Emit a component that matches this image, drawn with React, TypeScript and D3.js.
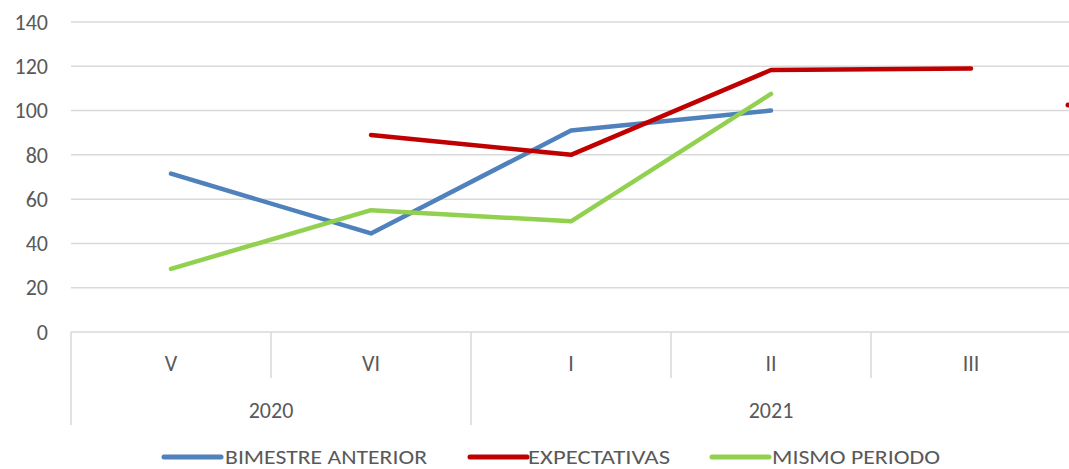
import React from "react";
import * as d3 from "d3";

const categories = ["V", "VI", "I", "II", "III"];
const years = [
  { label: "2020", cats: ["V", "VI"] },
  { label: "2021", cats: ["I", "II", "III"] },
];
const yTicks = [0, 20, 40, 60, 80, 100, 120, 140];

const bimestreAnterior: (number | null)[] = [71.5, 44.5, 91, 100, null];
const expectativas: (number | null)[] = [null, 89, 80, 118.3, 119];
const mismoPeriodo: (number | null)[] = [28.5, 55, 50, 107.5, null];
const expectativasNext = 102.5;

const series = [
  { name: "BIMESTRE ANTERIOR", color: "#4f81bd", values: bimestreAnterior },
  { name: "EXPECTATIVAS", color: "#c00000", values: expectativas },
  { name: "MISMO PERIODO", color: "#92d050", values: mismoPeriodo },
];

const W = 1069;
const H = 469;
const FONT = "Carlito, Calibri, Lato, sans-serif";
const TEXT = "#595959";
const GRID = "#d9d9d9";
const FS = 22;

export default function App() {
  const x = d3.scaleBand<string>().domain(categories).range([71, 1071]);
  const y = d3.scaleLinear().domain([0, 140]).range([332, 22]);
  const bw = x.bandwidth();
  const cx = (c: string) => (x(c) as number) + bw / 2;

  const line = d3
    .line<number | null>()
    .defined((d) => d !== null)
    .x((_, i) => cx(categories[i]))
    .y((d) => y(d as number));

  const lastEdge = (x(categories[categories.length - 1]) as number) + bw;

  const legendY = 457;
  const legendItems = [
    { lx: 164, tx: 225, tl: 202 },
    { lx: 470, tx: 528, tl: 142 },
    { lx: 712, tx: 772, tl: 168 },
  ];

  return (
    <svg
      width={W}
      height={H}
      style={{ position: "absolute", left: 0, top: 0, background: "#fff" }}
      fontFamily={FONT}
    >
      {yTicks.map((t) => (
        <g key={t}>
          {t > 0 && (
            <line x1={71} x2={W} y1={y(t)} y2={y(t)} stroke={GRID} strokeWidth={1.5} />
          )}
          <text x={48} y={y(t)} dy="0.35em" textAnchor="end" fontSize={FS} fill={TEXT}>
            {t}
          </text>
        </g>
      ))}
      <line x1={71} x2={W} y1={y(0)} y2={y(0)} stroke={GRID} strokeWidth={1.5} />
      {categories.map((c) => {
        const left = x(c) as number;
        const isGroupStart = years.some((g) => g.cats[0] === c);
        return (
          <g key={c}>
            <line
              x1={left}
              x2={left}
              y1={y(0)}
              y2={isGroupStart ? 425 : 378}
              stroke={GRID}
              strokeWidth={1.5}
            />
            <text x={cx(c)} y={363} dy="0.35em" textAnchor="middle" fontSize={FS} fill={TEXT}>
              {c}
            </text>
          </g>
        );
      })}
      <line x1={lastEdge} x2={lastEdge} y1={y(0)} y2={425} stroke={GRID} strokeWidth={1.5} />
      {years.map((g) => {
        const a = x(g.cats[0]) as number;
        const b = (x(g.cats[g.cats.length - 1]) as number) + bw;
        return (
          <text key={g.label} x={(a + b) / 2} y={410} dy="0.35em" textAnchor="middle" fontSize={FS} fill={TEXT}>
            {g.label}
          </text>
        );
      })}
      {series.map((s) => (
        <path
          key={s.name}
          d={line(s.values) || ""}
          fill="none"
          stroke={s.color}
          strokeWidth={4.5}
          strokeLinecap="round"
          strokeLinejoin="round"
        />
      ))}
      <line
        x1={lastEdge - 3}
        x2={lastEdge + 60}
        y1={y(expectativasNext)}
        y2={y(expectativasNext)}
        stroke="#c00000"
        strokeWidth={5}
        strokeLinecap="round"
      />
      {series.map((s, i) => (
        <g key={s.name}>
          <line
            x1={legendItems[i].lx}
            x2={legendItems[i].lx + 57}
            y1={legendY}
            y2={legendY}
            stroke={s.color}
            strokeWidth={5}
            strokeLinecap="round"
          />
          <text
            x={legendItems[i].tx}
            y={legendY}
            dy="0.35em"
            fontSize={21}
            fill={TEXT}
            textLength={legendItems[i].tl}
            lengthAdjust="spacingAndGlyphs"
          >
            {s.name}
          </text>
        </g>
      ))}
    </svg>
  );
}
